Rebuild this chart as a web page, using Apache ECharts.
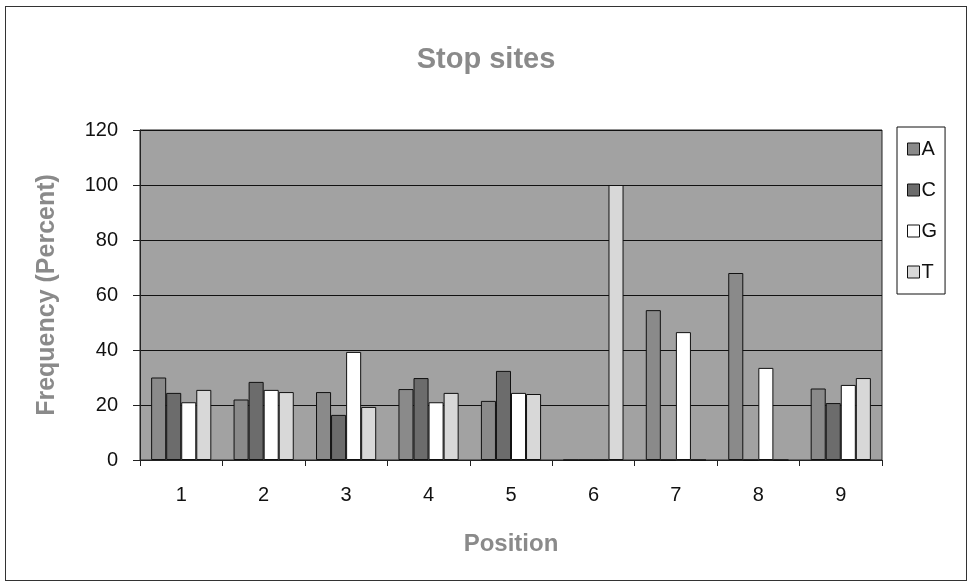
<!DOCTYPE html>
<html>
<head>
<meta charset="utf-8">
<script src="https://cdn.jsdelivr.net/npm/echarts@6/dist/echarts.min.js"></script>
<style>
  html, body { margin: 0; padding: 0; background: #fff; }
  #frame { position: absolute; left: 5px; top: 6px; width: 962px; height: 575px; border: 1px solid #333; box-sizing: border-box; }
  #chart { width: 972px; height: 588px; position: absolute; left: 0; top: 0; }
</style>
</head>
<body>
<div id="frame"></div>
<div id="chart"></div>
<script>
// positions along the sequence
const positions = ["1", "2", "3", "4", "5", "6", "7", "8", "9"];
// frequency (percent) for each base
const seriesA = [30, 22, 24.7, 25.8, 21.5, 0, 54.5, 68, 26];
const seriesC = [24.4, 28.4, 16.4, 29.8, 32.4, 0, 0, 0, 20.7];
const seriesG = [21, 25.5, 39.3, 21, 24.4, 0, 46.5, 33.5, 27.3];
const seriesT = [25.5, 24.7, 19.3, 24.4, 24, 100, 0, 0, 29.8];
const yTicks = [0, 20, 40, 60, 80, 100, 120];

const FONT = "Liberation Sans, Arial, sans-serif";

const chart = echarts.init(document.getElementById("chart"), null, { renderer: "canvas" });

function bar(name, data, color) {
    return {
        name,
        type: "bar",
        data,
        barGap: "0%",
        barCategoryGap: "27%",
        itemStyle: { color, borderColor: "#111", borderWidth: 1 },
    };
}

const option = {
    backgroundColor: "transparent",
    animation: false,
    title: {
        text: "Stop sites",
        left: "center",
        top: 40,
        textStyle: { fontFamily: FONT, fontSize: 29, fontWeight: "bold", color: "#8a8a8a" },
    },
    legend: {
        orient: "vertical",
        left: 897,
        top: 127,
        width: 60,
        itemWidth: 12,
        itemHeight: 12,
        itemGap: 21,
        padding: [12, 8, 12, 10],
        borderColor: "#111",
        borderWidth: 1,
        icon: "rect",
        textStyle: { fontFamily: FONT, fontSize: 20, color: "#111", padding: [0, 0, 0, -3] },
        itemStyle: { borderColor: "#111", borderWidth: 1 },
        data: ["A", "C", "G", "T"],
    },
    grid: {
        left: 140,
        right: 90,
        top: 130,
        bottom: 128,
        show: true,
        backgroundColor: "#a2a2a2",
        borderColor: "#222",
        borderWidth: 1,
    },
    xAxis: {
        type: "category",
        data: positions,
        name: "Position",
        nameLocation: "middle",
        nameGap: 72,
        nameTextStyle: { fontFamily: FONT, fontSize: 24, fontWeight: "bold", color: "#8a8a8a" },
        axisLine: { lineStyle: { color: "#222" } },
        axisTick: { show: true, length: 6, lineStyle: { color: "#222" } },
        axisLabel: { fontFamily: FONT, fontSize: 20, color: "#111", margin: 25 },
    },
    yAxis: {
        type: "value",
        min: yTicks[0],
        max: yTicks[yTicks.length - 1],
        interval: 20,
        name: "Frequency (Percent)",
        nameLocation: "middle",
        nameGap: 80,
        nameTextStyle: { fontFamily: FONT, fontSize: 25, fontWeight: "bold", color: "#8a8a8a" },
        axisLine: { show: true, lineStyle: { color: "#222" } },
        axisTick: { show: true, length: 7, lineStyle: { color: "#222" } },
        axisLabel: { fontFamily: FONT, fontSize: 20, color: "#111", margin: 22 },
        splitLine: { show: true, lineStyle: { color: "#111", width: 1 } },
    },
    series: [
        bar("A", seriesA, "#8a8a8a"),
        bar("C", seriesC, "#6c6c6c"),
        bar("G", seriesG, "#ffffff"),
        bar("T", seriesT, "#d8d8d8"),
    ],
};

chart.setOption(option);
</script>
</body>
</html>
